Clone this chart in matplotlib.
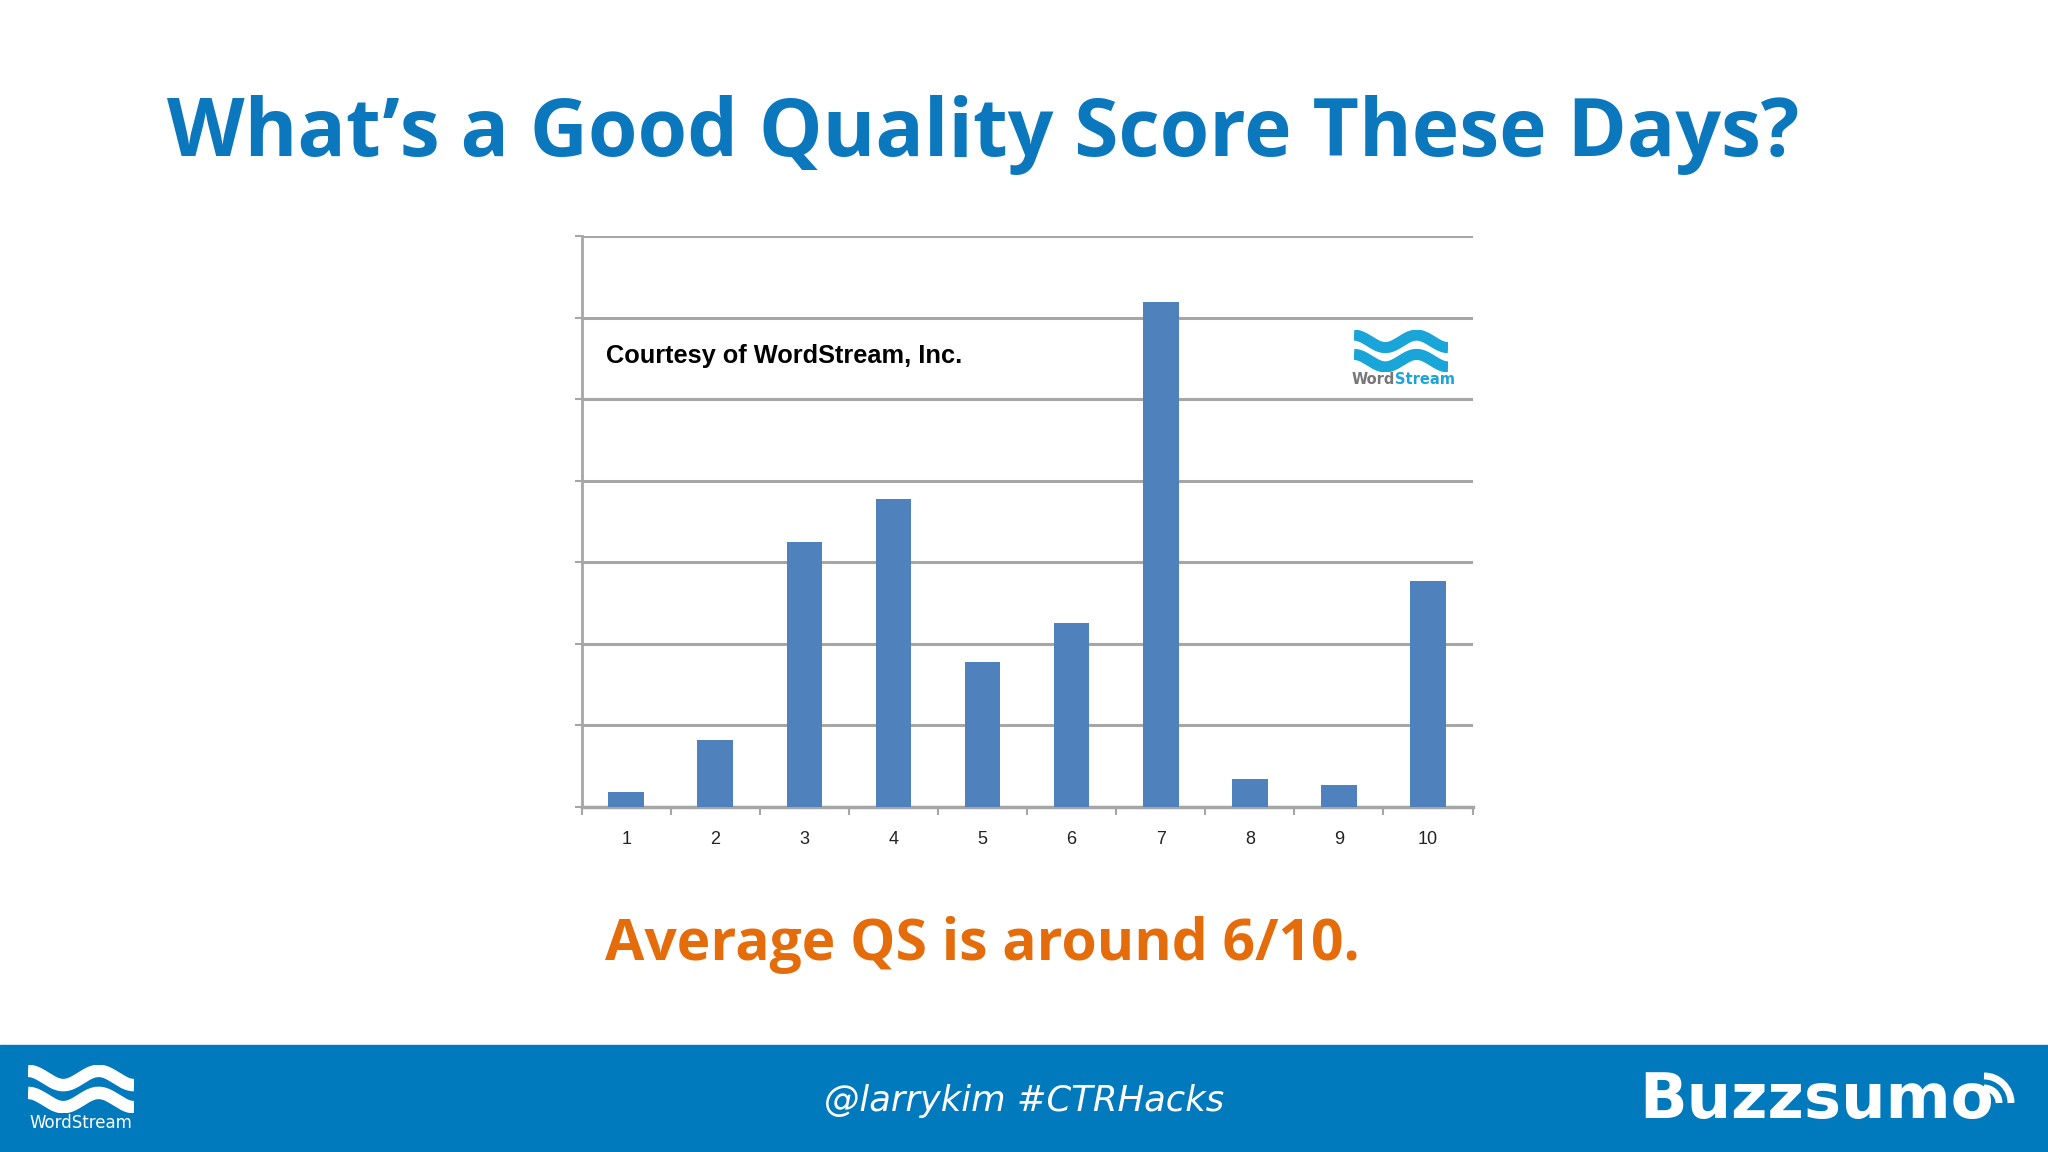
import numpy as np
import matplotlib.pyplot as plt
from matplotlib.patches import Rectangle, Arc

# quality score distribution (units = gridline steps)
scores = [1, 2, 3, 4, 5, 6, 7, 8, 9, 10]
share = [0.18, 0.82, 3.25, 3.78, 1.78, 2.26, 6.19, 0.34, 0.27, 2.77]
tick_labels = [str(s) for s in scores]

title = "What\u2019s a Good Quality Score These Days?"
subtitle = "Average QS is around 6/10."
footer = "@larrykim #CTRHacks"

blue_title = '#0B78BE'
bar_color = '#4F81BD'
grid_color = '#A6A6A6'
orange = '#E46C0A'
band = '#0079BD'
ws_cyan = '#1AA5D8'

fig = plt.figure(figsize=(20.48, 11.52), dpi=100)
fig.patch.set_facecolor('white')

fig.text(0.5 - 41 / 2048, 1 - 135 / 1152, title, ha='center', va='center',
         fontsize=57.8, fontweight='bold', color=blue_title, family='Open Sans')

# main chart
ax = fig.add_axes([0.284, 0.2995, 0.435, 0.4955])
ax.bar(scores, share, width=0.4, color=bar_color, zorder=3)
ax.set_xlim(0.5, 10.5)
ax.set_ylim(0, 7)
ax.set_yticks(np.arange(0, 8))
ax.set_yticklabels([])
ax.yaxis.grid(True, color=grid_color, linewidth=2.2, zorder=0)
ax.tick_params(axis='y', length=5, width=1.5, color=grid_color, direction='out')
ax.set_xticks(scores)
ax.set_xticklabels(tick_labels, fontsize=13, color='#222222', family='Liberation Sans')
ax.set_xticks(np.arange(0.5, 11, 1), minor=True)
ax.tick_params(axis='x', which='major', length=0, pad=17)
ax.tick_params(axis='x', which='minor', length=6, width=1.5, color=grid_color, direction='out')
for s in ['top', 'right']:
    ax.spines[s].set_visible(False)
ax.spines['bottom'].set_color(grid_color)
ax.spines['bottom'].set_linewidth(2.5)
ax.spines['left'].set_color(grid_color)
ax.spines['left'].set_linewidth(2)
ax.set_facecolor('none')

ax.text(0.027, 0.79, "Courtesy of WordStream, Inc.", transform=ax.transAxes,
        fontsize=18.3, fontweight='bold', color='black', family='Liberation Sans',
        va='center', ha='left')

# small WordStream logo in the chart
t = np.linspace(0, 2 * np.pi * 1.5, 200)
lg = fig.add_axes([1354 / 2048, 1 - 372 / 1152, 94 / 2048, 42 / 1152])
lg.plot(t, 0.55 * np.sin(t + np.pi / 2) + 2.4, color=ws_cyan, lw=8, solid_capstyle='butt')
lg.plot(t, 0.55 * np.sin(t + np.pi / 2) + 0.7, color=ws_cyan, lw=8, solid_capstyle='butt')
lg.set_xlim(t[0], t[-1])
lg.set_ylim(-0.3, 3.4)
lg.axis('off')
fig.text(1395 / 2048, 1 - 379 / 1152, "Word", fontsize=10.5, color='#777777',
         ha='right', va='center', family='DejaVu Sans', fontweight='bold')
fig.text(1395 / 2048, 1 - 379 / 1152, "Stream", fontsize=10.5, color=ws_cyan,
         ha='left', va='center', family='DejaVu Sans', fontweight='bold')

fig.text(0.5 - 42 / 2048, 1 - 945 / 1152, subtitle, ha='center', va='center',
         fontsize=41, fontweight='bold', color=orange, family='Open Sans')

# footer band
fig.patches.append(Rectangle((0, 0), 1, 107 / 1152, transform=fig.transFigure,
                             color=band, zorder=-1))
fig.text(0.5, 1 - 1101 / 1152, footer, ha='center', va='center', fontsize=25.5,
         style='italic', color='white', family='DejaVu Sans')

# footer WordStream logo
fl = fig.add_axes([28 / 2048, 1 - 1113 / 1152, 106 / 2048, 48 / 1152])
fl.plot(t, 0.55 * np.sin(t + np.pi / 2) + 2.4, color='white', lw=9, solid_capstyle='butt')
fl.plot(t, 0.55 * np.sin(t + np.pi / 2) + 0.7, color='white', lw=9, solid_capstyle='butt')
fl.set_xlim(t[0], t[-1])
fl.set_ylim(-0.3, 3.4)
fl.axis('off')
fig.text(81 / 2048, 1 - 1123 / 1152, "WordStream", fontsize=12, color='white',
         ha='center', va='center', family='DejaVu Sans')

# Buzzsumo logo
fig.text(1639 / 2048, 1 - 1101 / 1152, "Buzzsumo", fontsize=45, fontweight='bold',
         color='white', ha='left', va='center', family='DejaVu Sans')
for r in [15, 27]:
    fig.patches.append(Arc((1984, 1152 - 1103), 2 * r, 2 * r, theta1=0, theta2=90,
                           transform=None, color='white', lw=5))

fig.savefig('out.png', dpi=100)
